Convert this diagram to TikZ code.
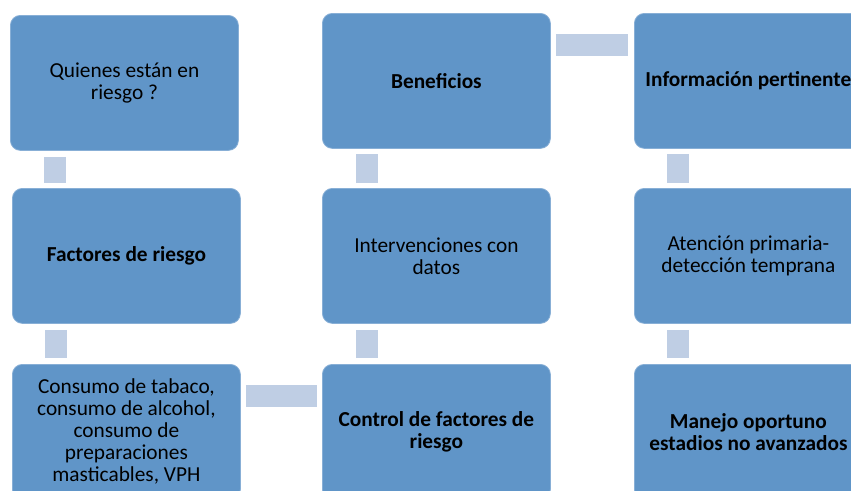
\documentclass[tikz,border=0pt]{standalone}
\usepackage{fontspec}
\setmainfont{Carlito}
\usetikzlibrary{calc}
\definecolor{boxblue}{RGB}{96,149,200}
\definecolor{linkblue}{RGB}{191,206,228}
\begin{document}
\begin{tikzpicture}[
x=0.75pt, y=-0.75pt,
 box/.style = {%
      rectangle, rounded corners=7.5pt, fill=boxblue,
      draw=boxblue!75!white, line width=0.6pt,
      minimum width=171pt, minimum height=101.25pt,
      inner sep=0pt, anchor=north west, align=center,
      font=\fontsize{16pt}{16.5pt}\selectfont},
 bbox/.style = {box, font=\fontsize{16pt}{16.5pt}\selectfont\bfseries},
 link/.style = {draw=linkblue, line width=16.5pt}
                    ]
\useasboundingbox (0,0) rectangle (851,490);
\clip (0,0) rectangle (851,490);
\node(q)  [box]  at (10,15)   {Quienes están en\\ riesgo ?};
\node(f)  [bbox] at (12,188)  {Factores de riesgo};
\node(c)  [box]  at (12,364)  {Consumo de tabaco,\\ consumo de alcohol,\\ consumo de\\ preparaciones\\ masticables, VPH};
\node(b)  [bbox] at (322,13)  {Beneficios};
\node(iv) [box]  at (322,188) {Intervenciones con\\ datos};
\node(cf) [bbox] at (322,364) {Control de factores de\\ riesgo};
\node(i)  [bbox] at (634,13)  {Información pertinente};
\node(a)  [box]  at (634,188) {Atención primaria-\\ detección temprana};
\node(m)  [bbox] at (634,364) {Manejo oportuno\\ estadios no avanzados};
%
\path   ($(q.south west)+(45,6)$)  edge[link] ($(f.north west)+(43,-5)$);
\path   ($(f.south west)+(44,6)$)  edge[link] ($(c.north west)+(44,-6)$);
\path   ($(c.north east)+(5,32)$)  edge[link] ($(cf.north west)+(-5,32)$);
\path   ($(cf.north west)+(45,-6)$) edge[link] ($(iv.south west)+(45,6)$);
\path   ($(iv.north west)+(45,-5)$) edge[link] ($(b.south west)+(45,5)$);
\path   ($(b.north east)+(5,31.5)$) edge[link] ($(i.north west)+(-6,31.5)$);
\path   ($(i.south west)+(44,5)$)  edge[link] ($(a.north west)+(44,-5)$);
\path   ($(a.south west)+(44,6)$)  edge[link] ($(m.north west)+(44,-6)$);
\end{tikzpicture}
\end{document}
